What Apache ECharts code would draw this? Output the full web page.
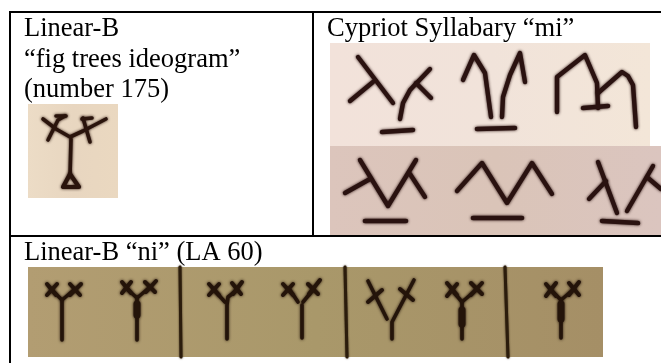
<!DOCTYPE html>
<html>
<head>
<meta charset="utf-8">
<style>
  html, body { margin: 0; padding: 0; background: #fff; }
  #main { width: 661px; height: 363px; }
</style>
<script src="https://cdn.jsdelivr.net/npm/echarts@6/dist/echarts.min.js"></script>
</head>
<body>
<div id="main"></div>
<script>
// Cell captions: text, x, y in the page's 661x363 frame
var captions = [
  ['Linear-B', 24, 16],
  ['\u201Cfig trees ideogram\u201D', 24, 47],
  ['(number 175)', 24, 77],
  ['Cypriot Syllabary \u201Cmi\u201D', 327, 16],
  ['Linear-B \u201Cni\u201D (LA 60)', 24, 240]
];

// Table rules, [x1, y1, x2, y2]
var tableRules = [
  [9, 12, 661, 12],
  [10, 12, 10, 363],
  [313, 12, 313, 236],
  [10, 236, 661, 236]
];

// Photo patches, [x1, y1, x2, y2, colours left to right]
var photoPatches = [
  [28, 104, 118, 198, ['#ecdcc6', '#e8d6c0', '#ead8c0']],
  [330, 43, 650, 146, ['#f2e2da', '#f1e3da', '#f3e6d8']],
  [330, 146, 661, 236, ['#dcc5bc', '#dac4b8', '#dbc5bf']],
  [28, 267, 603, 357, ['#b29d72', '#a9986a', '#a58f66']]
];

// Fig tree ideogram strokes (polylines)
var figStrokes = [
  [[71, 139], [70, 176]],
  [[43, 119], [56, 129], [70, 137], [83, 131], [106, 119]],
  [[65, 116], [58, 120], [48, 140]],
  [[56, 116], [66, 116]],
  [[83, 118], [90, 142]],
  [[82, 119], [92, 118]]
];
var figBase = [
  [[70, 174], [63, 187], [79, 187], [70, 174]]
];

// Cypriot "mi" strokes, top and bottom photo
var cypriotStrokes = [
  [[358, 57], [393, 103]],
  [[350, 101], [373, 82]],
  [[400, 119], [403, 103], [410, 90], [430, 69]],
  [[416, 83], [431, 98]],
  [[463, 80], [474, 55], [485, 73], [488, 95], [491, 117]],
  [[502, 117], [503, 97], [510, 75], [520, 53], [525, 82]],
  [[557, 112], [557, 77], [585, 55], [597, 83], [598, 108]],
  [[598, 93], [622, 72], [628, 76], [633, 85], [636, 127]],
  [[360, 160], [388, 206], [416, 160]],
  [[345, 193], [370, 179]],
  [[410, 174], [425, 197]],
  [[457, 191], [482, 163], [507, 203], [532, 163], [552, 194]],
  [[598, 162], [617, 213]],
  [[589, 199], [606, 181]],
  [[627, 211], [653, 166]],
  [[648, 178], [661, 189]]
];
var cypriotBars = [
  [[382, 132], [413, 130]],
  [[477, 129], [515, 128]],
  [[583, 108], [608, 106]],
  [[365, 221], [406, 221]],
  [[473, 218], [522, 218]],
  [[602, 221], [638, 223]]
];

// Linear-B "ni" signs
var niStrokes = [
  [[51, 289], [62, 300], [75, 289]],
  [[62, 300], [62, 340]],
  [[126, 288], [137, 298], [150, 287]],
  [[137, 297], [137, 340]],
  [[214, 290], [225, 302]],
  [[237, 290], [228, 297], [227, 305], [227, 339]],
  [[290, 290], [298, 302]],
  [[313, 290], [303, 302]],
  [[302, 305], [302, 338]],
  [[368, 281], [387, 319]],
  [[414, 280], [392, 322], [392, 339]],
  [[452, 290], [462, 302], [476, 290]],
  [[462, 302], [462, 339]],
  [[551, 290], [561, 300], [574, 289]],
  [[561, 300], [561, 338]]
];
var niCrosses = [
  [[47, 284], [56, 295]], [[57, 284], [47, 295]],
  [[70, 284], [80, 295]], [[81, 284], [70, 295]],
  [[122, 282], [131, 293]], [[131, 282], [122, 293]],
  [[145, 282], [155, 292]], [[156, 281], [146, 292]],
  [[209, 284], [219, 295]], [[219, 284], [209, 295]],
  [[232, 283], [241, 294]], [[242, 282], [233, 294]],
  [[283, 284], [293, 295]], [[293, 284], [283, 295]],
  [[308, 284], [318, 294]], [[320, 280], [309, 294]],
  [[368, 302], [382, 290]],
  [[400, 289], [413, 300]],
  [[447, 283], [457, 295]], [[457, 284], [447, 296]],
  [[471, 283], [482, 294]], [[482, 283], [471, 295]],
  [[546, 284], [556, 296]], [[556, 283], [546, 296]],
  [[569, 283], [579, 295]], [[579, 282], [569, 295]]
];
var niBulges = [
  [[137, 304], [137, 315]],
  [[462, 310], [462, 324]],
  [[561, 304], [561, 319]]
];

// Vertical scribe lines in the "ni" photo
var niDividers = [
  [[180, 267], [181, 357]],
  [[345, 267], [347, 357]],
  [[505, 267], [508, 357]]
];

var chartDom = document.getElementById('main');
var myChart = echarts.init(chartDom);

function strokeSeries(strokes, color, width, blur) {
  return {
    type: 'custom',
    coordinateSystem: 'cartesian2d',
    silent: true,
    z: 5,
    data: strokes.map(function (s, i) { return [i]; }),
    renderItem: function (params, api) {
      return {
        type: 'polyline',
        shape: { points: strokes[params.dataIndex].map(function (p) { return api.coord(p); }) },
        style: {
          fill: null,
          stroke: color,
          lineWidth: width,
          lineCap: 'round',
          lineJoin: 'round',
          shadowBlur: blur,
          shadowColor: color
        }
      };
    }
  };
}

var option = {
  animation: false,
  backgroundColor: '#fff',
  title: captions.map(function (c) {
    return {
      text: c[0],
      left: c[1],
      top: c[2],
      padding: 0,
      textStyle: {
        fontFamily: 'Liberation Serif',
        fontSize: 26.5,
        fontWeight: 400,
        color: '#000'
      }
    };
  }),
  grid: { left: 0, right: 0, top: 0, bottom: 0 },
  xAxis: { type: 'value', min: 0, max: 661, show: false },
  yAxis: { type: 'value', min: 0, max: 363, inverse: true, show: false },
  series: [
    {
      type: 'custom',
      coordinateSystem: 'cartesian2d',
      silent: true,
      z: 2,
      data: photoPatches.map(function (p, i) { return [i]; }),
      renderItem: function (params, api) {
        var p = photoPatches[params.dataIndex];
        var a = api.coord([p[0], p[1]]);
        var b = api.coord([p[2], p[3]]);
        return {
          type: 'rect',
          shape: { x: a[0], y: a[1], width: b[0] - a[0], height: b[1] - a[1] },
          style: {
            fill: new echarts.graphic.LinearGradient(0, 0, 1, 0, [
              { offset: 0, color: p[4][0] },
              { offset: 0.5, color: p[4][1] },
              { offset: 1, color: p[4][2] }
            ])
          }
        };
      }
    },
    {
      type: 'custom',
      coordinateSystem: 'cartesian2d',
      silent: true,
      z: 3,
      data: tableRules.map(function (r, i) { return [i]; }),
      renderItem: function (params, api) {
        var r = tableRules[params.dataIndex];
        var a = api.coord([r[0], r[1]]);
        var b = api.coord([r[2], r[3]]);
        return {
          type: 'line',
          shape: { x1: a[0], y1: a[1], x2: b[0], y2: b[1] },
          style: { stroke: '#000', lineWidth: 2 }
        };
      }
    },
    strokeSeries(figStrokes, '#2a140c', 3.6, 3),
    strokeSeries(figBase, '#2a140c', 4.2, 3),
    strokeSeries(cypriotStrokes, '#2a1210', 4.4, 3),
    strokeSeries(cypriotBars, '#2a1210', 4.6, 3),
    strokeSeries(niStrokes, '#24140a', 3.6, 3),
    strokeSeries(niCrosses, '#24140a', 4, 3),
    strokeSeries(niBulges, '#24140a', 7, 3),
    strokeSeries(niDividers, '#2b1c0c', 3, 2)
  ]
};

myChart.setOption(option);

window.addEventListener('resize', function () { myChart.resize(); });
</script>
</body>
</html>
